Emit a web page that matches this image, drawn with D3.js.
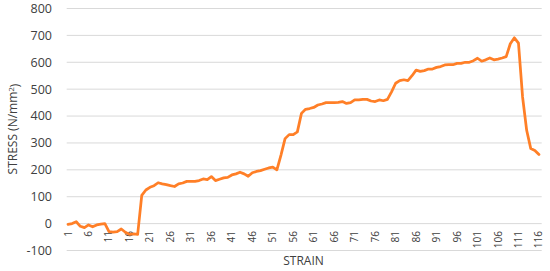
<!DOCTYPE html>
<html>
<head>
<meta charset="utf-8">
<script src="https://cdn.jsdelivr.net/npm/d3@7"></script>
<style>
  html, body { margin: 0; padding: 0; background: #fff; }
  #chart { width: 550px; height: 271px; }
  text { font-family: "Open Sans", "Liberation Sans", sans-serif; }
</style>
</head>
<body>
<div id="chart"></div>
<script>
const stress = [
  -3, 0, 7, -10, -15, -5, -12, -5, -2, 0,
  -30, -32, -30, -20, -32, -40, -38, -40, 105, 125,
  135, 141, 152, 148, 145, 141, 138, 148, 151, 157,
  157, 157, 160, 166, 164, 175, 160, 165, 170, 172,
  181, 185, 191, 185, 176, 189, 194, 197, 202, 207,
  210, 200, 255, 316, 331, 331, 341, 410, 425, 428,
  432, 441, 445, 450, 450, 450, 451, 454, 447, 450,
  460, 460, 462, 462, 456, 454, 460, 457, 462, 490,
  522, 532, 535, 532, 550, 571, 566, 569, 575, 575,
  581, 584, 590, 591, 591, 596, 596, 600, 600, 606,
  615, 604, 609, 616, 609, 612, 616, 621, 669, 691,
  671, 471, 347, 279, 272, 257
];
const strain = d3.range(1, stress.length + 1);
const xTickLabels = ['1', '6', '11', '16', '21', '26', '31', '36', '41', '46', '51', '56',
  '61', '66', '71', '76', '81', '86', '91', '96', '101', '106', '111', '116'];
const yTicks = [-100, 0, 100, 200, 300, 400, 500, 600, 700, 800];

const width = 550, height = 271;
const plotLeft = 66, plotRight = 541, plotTop = 8.5, plotBottom = 250.5;

let svg = d3.select('#chart')
  .append('svg')
  .attr('width', width)
  .attr('height', height);

let x = d3.scalePoint()
  .domain(strain)
  .range([plotLeft, plotRight])
  .padding(0.5);

let y = d3.scaleLinear()
  .domain([-100, 800])
  .range([plotBottom, plotTop]);

// gridlines
svg.append('g')
  .selectAll('line')
  .data(yTicks)
  .enter()
  .append('line')
  .attr('x1', plotLeft + 0.7)
  .attr('x2', plotRight + 0.7)
  .attr('y1', d => y(d))
  .attr('y2', d => y(d))
  .attr('stroke', '#d9d9d9')
  .attr('stroke-width', 1);

// y tick labels
svg.append('g')
  .selectAll('text')
  .data(yTicks)
  .enter()
  .append('text')
  .attr('x', 52)
  .attr('y', d => y(d))
  .attr('dy', '0.35em')
  .style('text-anchor', 'end')
  .style('font-size', '12.5px')
  .style('fill', '#404040')
  .text(d => d);

// x tick labels, rotated
svg.append('g')
  .selectAll('text')
  .data(xTickLabels)
  .enter()
  .append('text')
  .attr('transform', d => 'translate(' + x(+d) + ',' + 231 + ') rotate(-90)')
  .attr('dy', '0.35em')
  .style('text-anchor', 'end')
  .style('font-size', '10px')
  .style('fill', '#404040')
  .text(d => d);

// the series
svg.append('path')
  .datum(stress)
  .attr('fill', 'none')
  .attr('stroke', '#ff7f27')
  .attr('stroke-width', 2.75)
  .attr('stroke-linejoin', 'round')
  .attr('stroke-linecap', 'round')
  .attr('d', d3.line()
    .x((d, i) => x(strain[i]))
    .y(d => y(d)));

svg.append('text')
  .attr('x', (plotLeft + plotRight) / 2)
  .attr('y', 265)
  .style('text-anchor', 'middle')
  .style('font-size', '12px')
  .style('fill', '#404040')
  .text('STRAIN');

let yTitle = svg.append('text')
  .attr('transform', 'translate(17,' + 129 + ') rotate(-90)')
  .style('text-anchor', 'middle')
  .style('font-size', '12px')
  .style('fill', '#404040');
yTitle.append('tspan').text('STRESS (N/mm');
yTitle.append('tspan')
  .attr('dy', '-0.4em')
  .style('font-size', '8px')
  .text('2');
yTitle.append('tspan')
  .attr('dy', '0.4em')
  .text(')');
</script>
</body>
</html>
